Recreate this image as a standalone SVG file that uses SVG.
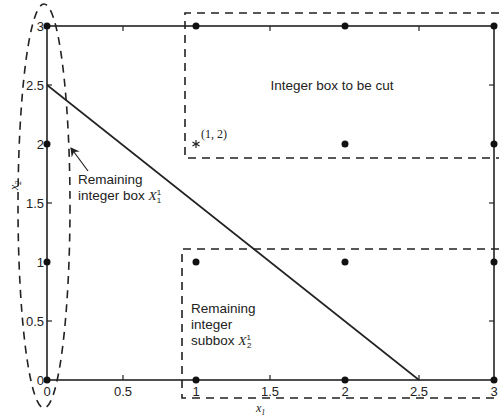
<svg xmlns="http://www.w3.org/2000/svg" width="499" height="419" viewBox="0 0 499 419">
<style>
.ax{stroke:#222;stroke-width:1.6;fill:none}
.tk{stroke:#222;stroke-width:1.2}
.ds{stroke:#222;stroke-width:1.6;fill:none;stroke-dasharray:8,6}
.t{font-family:"Liberation Sans",Arial,sans-serif;font-size:13.5px;fill:#222}
.n{font-family:"Liberation Sans",Arial,sans-serif;font-size:13px;fill:#222}
.m{font-family:"Liberation Serif","Times New Roman",serif;font-style:italic;fill:#222}
.r{font-family:"Liberation Serif","Times New Roman",serif;fill:#222;font-size:12px}
.d{fill:#111}
</style>
<defs>
<marker id="ah" markerWidth="10" markerHeight="10" refX="8" refY="5" orient="auto" markerUnits="userSpaceOnUse">
<path d="M0,0 L9,5 L0,10 L3,5 Z" fill="#222"/>
</marker>
</defs>
<rect width="499" height="419" fill="#fff"/>
<g id="axes">
<rect class="ax" x="47" y="26" width="447" height="354"/>
<g class="tk">
<line x1="123" y1="380" x2="123" y2="375"/><line x1="270" y1="380" x2="270" y2="375"/><line x1="419" y1="380" x2="419" y2="375"/>
<line x1="123" y1="26" x2="123" y2="31"/><line x1="270" y1="26" x2="270" y2="31"/><line x1="419" y1="26" x2="419" y2="31"/>
<line x1="47" y1="85" x2="52" y2="85"/><line x1="47" y1="203" x2="52" y2="203"/><line x1="47" y1="321" x2="52" y2="321"/>
<line x1="494" y1="85" x2="489" y2="85"/><line x1="494" y1="203" x2="489" y2="203"/><line x1="494" y1="321" x2="489" y2="321"/>
</g>
<g class="n" text-anchor="end">
<text x="44" y="31">3</text><text x="44" y="90">2.5</text><text x="44" y="149">2</text><text x="44" y="208">1.5</text><text x="44" y="267">1</text><text x="44" y="326">0.5</text><text x="44" y="385">0</text>
</g>
<g class="n" text-anchor="middle">
<text x="47" y="396">0</text><text x="123" y="396">0.5</text><text x="196" y="396">1</text><text x="270" y="396">1.5</text><text x="345" y="396">2</text><text x="419" y="396">2.5</text><text x="494" y="396">3</text>
</g>
<text class="m" x="256" y="412" font-size="12">x<tspan font-size="8" dy="3">1</tspan></text>
<text class="m" font-size="12" transform="translate(18,190) rotate(-90)">x<tspan font-size="8" dy="3">2</tspan></text>
</g>
<g id="cut-line"><line class="ax" x1="47" y1="85" x2="419" y2="380"/></g>
<g id="points">
<circle class="d" cx="47" cy="380" r="3.5"/><circle class="d" cx="196" cy="380" r="3.5"/><circle class="d" cx="345" cy="380" r="3.5"/><circle class="d" cx="494" cy="380" r="3.5"/>
<circle class="d" cx="47" cy="262" r="3.5"/><circle class="d" cx="196" cy="262" r="3.5"/><circle class="d" cx="345" cy="262" r="3.5"/><circle class="d" cx="494" cy="262" r="3.5"/>
<circle class="d" cx="47" cy="144" r="3.5"/><circle class="d" cx="345" cy="144" r="3.5"/><circle class="d" cx="494" cy="144" r="3.5"/>
<circle class="d" cx="47" cy="26" r="3.5"/><circle class="d" cx="196" cy="26" r="3.5"/><circle class="d" cx="345" cy="26" r="3.5"/><circle class="d" cx="494" cy="26" r="3.5"/>
<g stroke="#222" stroke-width="1.2">
<line x1="196" y1="140" x2="196" y2="148"/><line x1="192.5" y1="142" x2="199.5" y2="146"/><line x1="192.5" y1="146" x2="199.5" y2="142"/>
</g>
<text class="r" x="201" y="138">(1, 2)</text>
</g>
<g id="box-to-cut">
<path class="ds" d="M499,13 H185 V158 H499"/>
<text class="t" x="332" y="90" text-anchor="middle">Integer box to be cut</text>
</g>
<g id="subbox">
<path class="ds" d="M499,249 H182 V398 H499"/>
<text class="t" x="191" y="313">Remaining</text>
<text class="t" x="191" y="329">integer</text>
<text class="t" x="191" y="345">subbox <tspan class="m">X</tspan><tspan font-size="8" dy="-5">1</tspan><tspan font-size="8" dx="-4" dy="8">2</tspan></text>
</g>
<g id="remaining-box">
<ellipse class="ds" cx="44" cy="206" rx="26" ry="202"/>
<text class="t" x="78" y="184">Remaining</text>
<text class="t" x="78" y="200">integer box <tspan class="m">X</tspan><tspan font-size="8" dy="-5">1</tspan><tspan font-size="8" dx="-4" dy="8">1</tspan></text>
</g>
<g id="connectors">
<line class="tk" x1="88" y1="171" x2="71" y2="148" marker-end="url(#ah)"/>
</g>
</svg>
